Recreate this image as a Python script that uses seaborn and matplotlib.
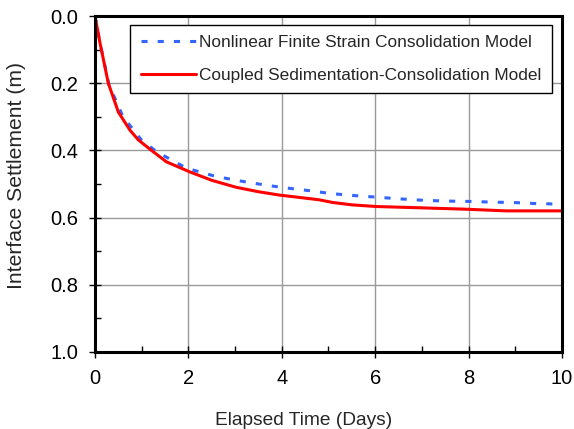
import matplotlib
matplotlib.use("Agg")
import matplotlib.pyplot as plt
import seaborn as sns
import pandas as pd
from matplotlib.ticker import MultipleLocator, FormatStrFormatter

# Data
t_nonlinear = [0.0, 0.1, 0.3, 0.6, 1.0, 1.32, 1.96, 2.6, 3.31, 3.99, 4.66, 5.02, 5.5, 6.02, 6.5, 7.09, 7.6, 8.08, 8.5, 8.94, 9.4, 10.0]
s_nonlinear = [0.0, 0.075, 0.205, 0.30, 0.37, 0.404, 0.453, 0.478, 0.496, 0.510, 0.521, 0.528, 0.534, 0.539, 0.544, 0.549, 0.551, 0.552, 0.554, 0.555, 0.558, 0.560]

t_coupled = [0.0, 0.107, 0.285, 0.5, 0.75, 0.93, 1.21, 1.53, 2.03, 2.5, 3.03, 3.5, 3.95, 4.38, 4.8, 5.09, 5.5, 6.02, 7.0, 7.94, 8.8, 9.4, 10.0]
s_coupled = [0.0, 0.080, 0.200, 0.286, 0.340, 0.369, 0.400, 0.434, 0.464, 0.489, 0.510, 0.523, 0.533, 0.540, 0.547, 0.555, 0.562, 0.567, 0.571, 0.575, 0.580, 0.580, 0.580]

label_nonlinear = "Nonlinear Finite Strain Consolidation Model"
label_coupled = "Coupled Sedimentation-Consolidation Model"

sns.set_style("white")
plt.rcParams['font.family'] = ['Liberation Sans', 'DejaVu Sans']

df_n = pd.DataFrame({"t": t_nonlinear, "s": s_nonlinear})
df_c = pd.DataFrame({"t": t_coupled, "s": s_coupled})

fig = plt.figure(figsize=(5.74, 4.29), dpi=100)
ax = fig.add_axes([0.1655, 0.1795, 0.8135, 0.7832])

sns.lineplot(data=df_n, x="t", y="s", ax=ax, color="#3366FF", linewidth=2.2,
             linestyle=(0, (2.0, 3.3)), label=label_nonlinear, sort=False)
sns.lineplot(data=df_c, x="t", y="s", ax=ax, color="#FF0000", linewidth=2.2,
             label=label_coupled, sort=False)

ax.set_xlim(0, 10)
ax.set_ylim(1.0, 0.0)
ax.xaxis.set_major_locator(MultipleLocator(2))
ax.xaxis.set_minor_locator(MultipleLocator(1))
ax.yaxis.set_major_locator(MultipleLocator(0.2))
ax.yaxis.set_minor_locator(MultipleLocator(0.1))
ax.yaxis.set_major_formatter(FormatStrFormatter('%.1f'))
ax.xaxis.set_major_formatter(FormatStrFormatter('%d'))

ax.grid(True, which='major', color='#999999', linewidth=1.0)
ax.set_axisbelow(True)
for sp in ax.spines.values():
    sp.set_color('black')
    sp.set_linewidth(2.2)

ax.tick_params(which='major', direction='inout', length=8.6, width=1.0, colors='black', labelsize=14.5, pad=8)
ax.tick_params(which='minor', direction='in', length=4.5, width=1.0, colors='black')
ax.tick_params(bottom=True, left=True, which='both')

ax.set_xlabel("Elapsed Time (Days)", fontsize=13.8, labelpad=17.5)
ax.xaxis.label.set_x(0.4475)
ax.set_ylabel("Interface Settlement (m)", fontsize=15.2)
ax.yaxis.set_label_coords(-0.147, 0.524)

leg = ax.legend(loc='upper right', bbox_to_anchor=(0.9786, 0.973), fontsize=12.4, frameon=True,
                fancybox=False, edgecolor='black', framealpha=1, handlelength=3.2,
                handletextpad=0.2, borderpad=0.6, labelspacing=1.0, borderaxespad=0)
leg.get_frame().set_linewidth(1.0)

fig.savefig("out.png", dpi=100)
